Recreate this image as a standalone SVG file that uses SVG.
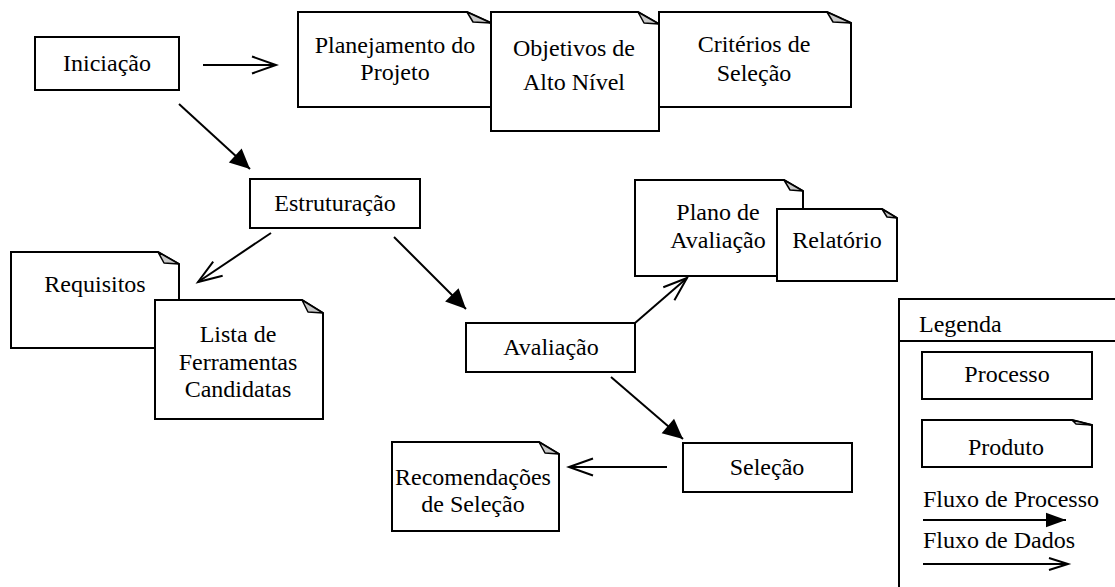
<svg xmlns="http://www.w3.org/2000/svg" width="1115" height="587" viewBox="0 0 1115 587">
<style>
  .box{fill:#fff;stroke:#000;stroke-width:2}
  .doc{fill:#fff;stroke:#000;stroke-width:2;stroke-linejoin:miter}
  .fold{fill:#c8c8c8;stroke:#000;stroke-width:1.5;stroke-linejoin:round}
  .t{font-family:"Liberation Serif","Tinos","Times New Roman","DejaVu Serif","Noto Serif",serif;font-size:24px;fill:#000;text-anchor:middle}
  .tl{text-anchor:start}
  .c{stroke:#000;stroke-width:2;fill:none}
  .pf{marker-end:url(#filled)}
  .df{marker-end:url(#open)}
</style>
<defs>
  <marker id="filled" markerUnits="userSpaceOnUse" markerWidth="22" markerHeight="20" refX="20" refY="9.5" orient="auto" overflow="visible">
    <path d="M0,0 L20,9.5 L0,19 Z" fill="#000"/>
  </marker>
  <marker id="open" markerUnits="userSpaceOnUse" markerWidth="26" markerHeight="18" refX="24" refY="8.5" orient="auto" overflow="visible">
    <path d="M0,0 L24,8.5 L0,17" fill="none" stroke="#000" stroke-width="2"/>
  </marker>
  <marker id="filledS" markerUnits="userSpaceOnUse" markerWidth="22" markerHeight="16" refX="20" refY="7.3" orient="auto" overflow="visible">
    <path d="M0,0 L20,7.3 L0,14.6 Z" fill="#000"/>
  </marker>
  <marker id="openS" markerUnits="userSpaceOnUse" markerWidth="22" markerHeight="14" refX="19" refY="6" orient="auto" overflow="visible">
    <path d="M0,0 L19,6 L0,12" fill="none" stroke="#000" stroke-width="2"/>
  </marker>
</defs>

<g id="iniciacao">
  <rect class="box" x="35" y="37" width="144" height="53"/>
  <text class="t" x="107" y="71">Iniciação</text>
</g>

<g id="planejamento">
  <path class="doc" d="M298,12 H467 L491,23 V107 H298 Z"/>
  <path class="fold" d="M467,12 L473,22 L491,23 Z"/>
  <text class="t" x="395" y="53">Planejamento do</text>
  <text class="t" x="395" y="80">Projeto</text>
</g>

<g id="criterios">
  <path class="doc" d="M659,12 H827 L851,23 V107 H659 Z"/>
  <path class="fold" d="M827,12 L833,22 L851,23 Z"/>
  <text class="t" x="754" y="52">Critérios de</text>
  <text class="t" x="754" y="81">Seleção</text>
</g>

<g id="objetivos">
  <path class="doc" d="M491,12 H638 L659,24 V131 H491 Z"/>
  <path class="fold" d="M638,12 L644,23 L659,24 Z"/>
  <text class="t" x="574" y="56">Objetivos de</text>
  <text class="t" x="574" y="90">Alto Nível</text>
</g>

<g id="estruturacao">
  <rect class="box" x="250" y="179" width="170" height="49"/>
  <text class="t" x="335" y="211">Estruturação</text>
</g>

<g id="requisitos">
  <path class="doc" d="M11,252 H158 L179,264 V348 H11 Z"/>
  <path class="fold" d="M158,252 L164,263 L179,264 Z"/>
  <text class="t" x="95" y="292">Requisitos</text>
</g>

<g id="lista">
  <path class="doc" d="M155,300 H302 L323,313 V419 H155 Z"/>
  <path class="fold" d="M302,300 L308,312 L323,313 Z"/>
  <text class="t" x="238" y="342">Lista de</text>
  <text class="t" x="238" y="370">Ferramentas</text>
  <text class="t" x="238" y="397">Candidatas</text>
</g>

<g id="plano">
  <path class="doc" d="M635,180 H784 L803,191 V276 H635 Z"/>
  <path class="fold" d="M784,180 L790,190 L803,191 Z"/>
  <text class="t" x="718" y="220">Plano de</text>
  <text class="t" x="718" y="248">Avaliação</text>
</g>

<g id="relatorio">
  <path class="doc" d="M777,209 H882 L897,218 V281 H777 Z"/>
  <path class="fold" d="M882,209 L887,217 L897,218 Z"/>
  <text class="t" x="837" y="248">Relatório</text>
</g>

<g id="avaliacao">
  <rect class="box" x="466" y="323" width="169" height="49"/>
  <text class="t" x="551" y="355">Avaliação</text>
</g>

<g id="selecao">
  <rect class="box" x="683" y="443" width="169" height="49"/>
  <text class="t" x="767" y="475">Seleção</text>
</g>

<g id="recomendacoes">
  <path class="doc" d="M392,442 H539 L559,454 V531 H392 Z"/>
  <path class="fold" d="M539,442 L545,453 L559,454 Z"/>
  <text class="t" x="473" y="485">Recomendações</text>
  <text class="t" x="473" y="512">de Seleção</text>
</g>

<g id="connectors">
  <line class="c df" x1="203" y1="65" x2="276" y2="65"/>
  <line class="c pf" x1="179" y1="104" x2="250" y2="169"/>
  <line class="c df" x1="271" y1="233" x2="198" y2="282"/>
  <line class="c pf" x1="394" y1="237" x2="466" y2="309"/>
  <line class="c df" x1="635" y1="323" x2="687" y2="278"/>
  <line class="c pf" x1="611" y1="377" x2="683" y2="439"/>
  <line class="c df" x1="667" y1="467" x2="569" y2="467"/>
</g>

<g id="legenda">
  <path class="c" d="M1120,299 H899 V592"/>
  <line class="c" x1="899" y1="341" x2="1120" y2="341"/>
  <text class="t tl" x="919" y="332">Legenda</text>
  <g id="leg-processo">
    <rect class="box" x="922" y="352" width="170" height="47"/>
    <text class="t" x="1007" y="382">Processo</text>
  </g>
  <g id="leg-produto">
    <path class="doc" d="M922,420 H1072 L1092,425 V467 H922 Z"/>
    <path class="fold" d="M1072,420 L1076,424 L1092,425 Z"/>
    <text class="t" x="1006" y="455">Produto</text>
  </g>
  <text class="t tl" x="923" y="507">Fluxo de Processo</text>
  <line class="c" x1="923" y1="520" x2="1066" y2="520" marker-end="url(#filledS)"/>
  <text class="t tl" x="923" y="548">Fluxo de Dados</text>
  <line class="c" x1="923" y1="564" x2="1068" y2="564" marker-end="url(#openS)"/>
</g>
</svg>
